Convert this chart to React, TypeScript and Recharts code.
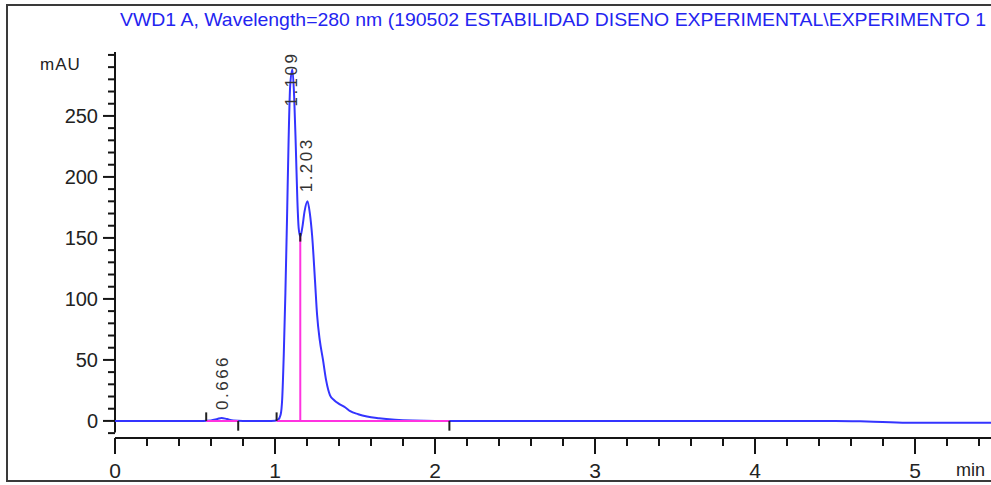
import { LineChart, Line, XAxis, YAxis, ReferenceLine, ReferenceDot } from "recharts"

// retention time (min) and absorbance (mAU)
const times = [
  0, 0.3, 0.55, 0.6, 0.64, 0.666, 0.7, 0.74, 0.8, 0.95,
  1.0, 1.02, 1.035, 1.045, 1.055, 1.065, 1.075, 1.085, 1.095, 1.109,
  1.12, 1.13, 1.14, 1.148, 1.158, 1.17, 1.185, 1.203, 1.218, 1.232,
  1.25, 1.263, 1.28, 1.3, 1.32, 1.344, 1.37, 1.4, 1.44, 1.47,
  1.52, 1.575, 1.65, 1.75, 1.86, 2.0, 2.5, 3.0, 3.5, 4.0,
  4.5, 4.7, 4.95, 5.5, 6.0,
]
const signal = [
  0, 0, 0, 0.4, 1.6, 2.4, 1.5, 0.4, 0, 0,
  0.2, 1, 5, 18, 55, 105, 165, 230, 275, 288,
  265, 225, 180, 158, 151, 158, 172, 180, 170, 152,
  115, 87, 66, 50, 33, 21, 17, 14, 11, 8,
  5.5, 3.6, 2.2, 1, 0.3, 0, 0, 0, 0, 0,
  0, -0.5, -1.5, -1.5, -1.5,
]

const peakTimes = [0.666, 1.109, 1.203]
const peakHeights = [2.4, 288, 180]
const peakLabels = ["0.666", "1.109", "1.203"]

// integration baselines [start, end] and the drop line between the two big peaks
const baselines = [
  [0.57, 0.77],
  [1.01, 2.09],
]
const dropTime = 1.158
const dropHeight = 151
const markerTimes = [0.57, 0.77, 1.01, 2.09]
const markerAbove = [true, false, true, false]

const xLabels = [0, 1, 2, 3, 4, 5]
const yLabels = [0, 50, 100, 150, 200, 250]
const xTicks = Array.from({ length: 30 }, (_, i) => Math.round(i * 2) / 10)
const yTicks = Array.from({ length: 32 }, (_, i) => i * 10 - 10)

const chartData = times.map((t, i) => ({ t, mAU: signal[i] }))

// label placement (px) relative to apex
const labelDx = [6, 5, 5]
const labelDy = [-8, 37, -9]

const font = "Arial, 'Liberation Sans', sans-serif"

const YTick = (props: any) => {
  const { x, y, payload } = props
  const v = payload.value
  const major = yLabels.includes(v)
  const len = major ? 12 : 7
  return (
    <g>
      <line x1={x - len} x2={x} y1={y} y2={y} stroke="#151515" strokeWidth={2} />
      {major && (
        <text x={x - len - 5} y={y} dy="0.36em" textAnchor="end" fontSize={20} fill="#222" fontFamily={font}>
          {v}
        </text>
      )}
    </g>
  )
}

const XTick = (props: any) => {
  const { x, y, payload } = props
  const v = payload.value
  const major = xLabels.some((m) => Math.abs(m - v) < 1e-6)
  const len = major ? 16 : 8
  return (
    <g>
      <line x1={x} x2={x} y1={y} y2={y + len} stroke="#151515" strokeWidth={2} />
      {major && (
        <text x={x} y={y + 40} textAnchor="middle" fontSize={21} fill="#222" fontFamily={font}>
          {Math.round(v)}
        </text>
      )}
    </g>
  )
}

export default function App() {
  return (
    <div
      style={{
        position: "absolute",
        left: 0,
        top: 0,
        width: 991,
        height: 485,
        overflow: "hidden",
        background: "#fff",
      }}
    >
      <div
        style={{
          position: "absolute",
          left: 6,
          top: 4,
          width: 1200,
          height: 474,
          border: "2px solid #3a3a3a",
        }}
      />
      <div style={{ position: "absolute", left: 0, top: 0 }}>
        <LineChart width={1100} height={485} data={chartData} margin={{ top: 52, right: 25, left: 0, bottom: 0 }}>
          <XAxis
            dataKey="t"
            type="number"
            domain={[0, 6]}
            ticks={xTicks}
            interval={0}
            allowDataOverflow
            height={47}
            tickSize={0}
            tickMargin={0}
            tickLine={false}
            axisLine={{ stroke: "#151515", strokeWidth: 2 }}
            tick={<XTick />}
          />
          <YAxis
            type="number"
            domain={[-14, 302.4]}
            ticks={yTicks}
            interval={0}
            allowDataOverflow
            width={115}
            tickSize={0}
            tickMargin={0}
            tickLine={false}
            axisLine={false}
            tick={<YTick />}
          />
          <ReferenceLine
            segment={[{ x: 0, y: -9.5 }, { x: 0, y: 302.4 }]}
            stroke="#151515"
            strokeWidth={2}
            ifOverflow="visible"
          />
          <Line
            type="monotone"
            dataKey="mAU"
            stroke="#3434ff"
            strokeWidth={2}
            dot={false}
            isAnimationActive={false}
          />
          {baselines.map((b) => (
            <ReferenceLine
              key={b[0]}
              segment={[{ x: b[0], y: 0 }, { x: b[1], y: 0 }]}
              stroke="#ff33e0"
              strokeWidth={2}
              ifOverflow="visible"
            />
          ))}
          <ReferenceLine
            segment={[{ x: dropTime, y: 0 }, { x: dropTime, y: dropHeight }]}
            stroke="#ff33e0"
            strokeWidth={2}
            ifOverflow="visible"
          />
          {markerTimes.map((t, i) => (
            <ReferenceLine
              key={"m" + t}
              segment={[{ x: t, y: 0 }, { x: t, y: markerAbove[i] ? 7 : -8 }]}
              stroke="#222"
              strokeWidth={2}
              ifOverflow="visible"
            />
          ))}
          <ReferenceLine
            segment={[{ x: dropTime, y: dropHeight - 4 }, { x: dropTime, y: dropHeight + 3 }]}
            stroke="#222"
            strokeWidth={2}
            ifOverflow="visible"
          />
          {peakTimes.map((t, i) => (
            <ReferenceDot
              key={"p" + t}
              x={t}
              y={peakHeights[i]}
              r={0}
              ifOverflow="visible"
              shape={(p: any) => (
                <text
                  transform={`translate(${p.cx + labelDx[i]}, ${p.cy + labelDy[i]}) rotate(-90)`}
                  fontSize={17}
                  letterSpacing={2.5}
                  fill="#333"
                  fontFamily={font}
                >
                  {peakLabels[i]}
                </text>
              )}
            />
          ))}
        </LineChart>
      </div>
      <svg width={991} height={485} style={{ position: "absolute", left: 0, top: 0, pointerEvents: "none" }}>
        <text
          x={120}
          y={26}
          fontSize={19}
          fill="#2424f0"
          fontFamily={font}
          textLength={866}
          lengthAdjust="spacingAndGlyphs"
        >
          VWD1 A, Wavelength=280 nm (190502 ESTABILIDAD DISENO EXPERIMENTAL\EXPERIMENTO 1
        </text>
        <text x={40} y={70} fontSize={17} letterSpacing={1} fill="#222" fontFamily={font}>
          mAU
        </text>
        <text x={956} y={476} fontSize={18} fill="#222" fontFamily={font}>
          min
        </text>
      </svg>
    </div>
  )
}
